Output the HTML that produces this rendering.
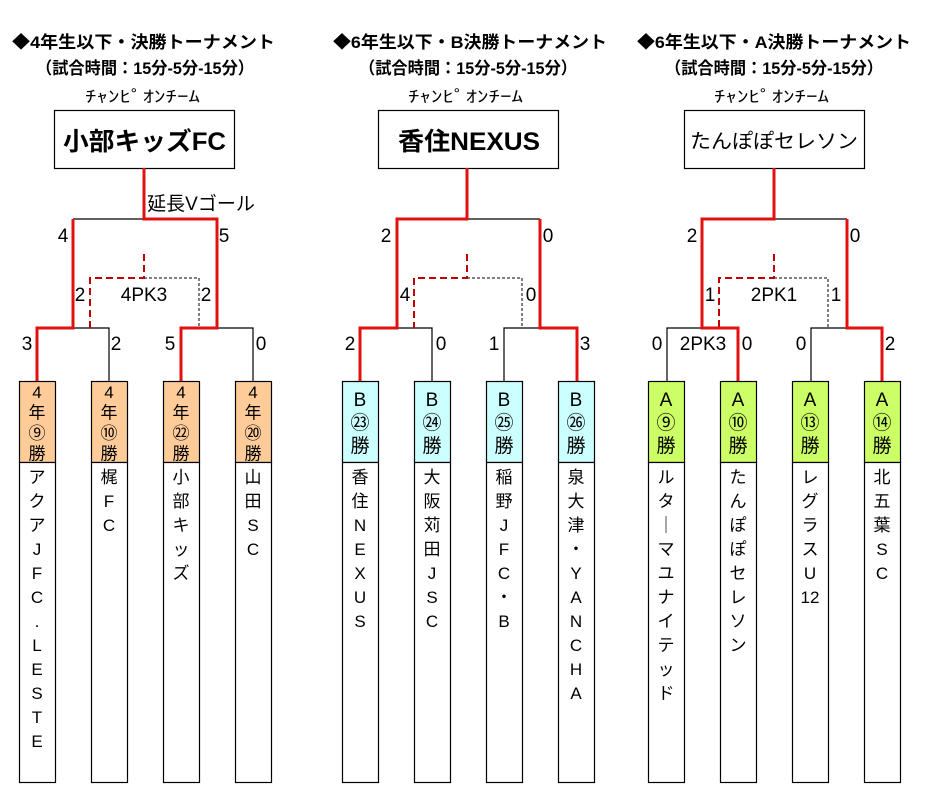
<!DOCTYPE html>
<html><head><meta charset="utf-8"><style>
html,body{margin:0;padding:0;background:#fff;}
svg{display:block;font-family:"Liberation Sans","Noto Sans CJK JP",sans-serif;}
.t{font-size:17px;font-weight:bold;}
.s{font-size:17px;font-weight:bold;}
.c{font-size:16px;}
</style></head><body>
<svg width="937" height="812" viewBox="0 0 937 812" xmlns="http://www.w3.org/2000/svg">
<g fill="#000">
<text class="t" x="12" y="48" textLength="263" lengthAdjust="spacingAndGlyphs">◆4年生以下・決勝トーナメント</text>
<text class="s" x="36" y="74" textLength="218" lengthAdjust="spacingAndGlyphs">（試合時間：15分-5分-15分）</text>
<text class="c" x="85" y="102" textLength="115" lengthAdjust="spacingAndGlyphs">ﾁｬﾝﾋﾟｵﾝﾁｰﾑ</text>
<text class="t" x="333" y="48" textLength="274" lengthAdjust="spacingAndGlyphs">◆6年生以下・B決勝トーナメント</text>
<text class="s" x="359" y="74" textLength="218" lengthAdjust="spacingAndGlyphs">（試合時間：15分-5分-15分）</text>
<text class="c" x="408" y="102" textLength="115" lengthAdjust="spacingAndGlyphs">ﾁｬﾝﾋﾟｵﾝﾁｰﾑ</text>
<text class="t" x="637" y="48" textLength="274" lengthAdjust="spacingAndGlyphs">◆6年生以下・A決勝トーナメント</text>
<text class="s" x="665" y="74" textLength="218" lengthAdjust="spacingAndGlyphs">（試合時間：15分-5分-15分）</text>
<text class="c" x="714" y="102" textLength="115" lengthAdjust="spacingAndGlyphs">ﾁｬﾝﾋﾟｵﾝﾁｰﾑ</text>
</g>
<g fill="#fff" stroke="#000" stroke-width="1.2">
<rect x="54.5" y="110.5" width="180" height="58"/>
<rect x="378.5" y="110.5" width="180" height="58"/>
<rect x="684.5" y="110.5" width="180" height="58"/>
</g>
<text x="63" y="150" font-size="25" font-weight="bold" textLength="163" lengthAdjust="spacingAndGlyphs">小部キッズFC</text>
<text x="398" y="150" font-size="25" font-weight="bold" textLength="142" lengthAdjust="spacingAndGlyphs">香住NEXUS</text>
<text x="690" y="148" font-size="20" textLength="168" lengthAdjust="spacingAndGlyphs">たんぽぽセレソン</text>

<g stroke="#000" stroke-width="1.2">
<g fill="#ffcc99">
<rect x="19.5" y="381.5" width="36" height="81"/><rect x="91.5" y="381.5" width="36" height="81"/><rect x="163.5" y="381.5" width="36" height="81"/><rect x="235.5" y="381.5" width="36" height="81"/>
</g>
<g fill="#ccffff">
<rect x="342.5" y="381.5" width="36" height="81"/><rect x="414.5" y="381.5" width="36" height="81"/><rect x="486.5" y="381.5" width="36" height="81"/><rect x="558.5" y="381.5" width="36" height="81"/>
</g>
<g fill="#ccff66">
<rect x="648.5" y="381.5" width="36" height="81"/><rect x="720.5" y="381.5" width="36" height="81"/><rect x="792.5" y="381.5" width="36" height="81"/><rect x="864.5" y="381.5" width="36" height="81"/>
</g>
<g fill="#fff">
<rect x="19.5" y="462.5" width="36" height="320"/><rect x="91.5" y="462.5" width="36" height="320"/><rect x="163.5" y="462.5" width="36" height="320"/><rect x="235.5" y="462.5" width="36" height="320"/>
<rect x="342.5" y="462.5" width="36" height="320"/><rect x="414.5" y="462.5" width="36" height="320"/><rect x="486.5" y="462.5" width="36" height="320"/><rect x="558.5" y="462.5" width="36" height="320"/>
<rect x="648.5" y="462.5" width="36" height="320"/><rect x="720.5" y="462.5" width="36" height="320"/><rect x="792.5" y="462.5" width="36" height="320"/><rect x="864.5" y="462.5" width="36" height="320"/>
</g>
</g>

<g fill="none" stroke="#000" stroke-width="1.2">
<polyline points="73,219 144,219"/><polyline points="73,328 109,328 109,381"/><polyline points="217,328 253,328 253,381"/>
<polyline points="467,219 540,219"/><polyline points="397,328 432,328 432,381"/><polyline points="504,381 504,328 540,328"/>
<polyline points="774,219 847,219"/><polyline points="667,381 667,328 702,328"/><polyline points="811,381 811,328 847,328"/>
</g>
<g fill="none" stroke="#000" stroke-width="1" stroke-dasharray="3,2">
<polyline points="144,278 199,278 199,328"/>
<polyline points="467,278 522,278 522,328"/>
<polyline points="774,278 828,278 828,328"/>
</g>
<g fill="none" stroke="#c00000" stroke-width="2" stroke-dasharray="7,4">
<polyline points="144,254 144,278 90,278 90,328"/>
<polyline points="467,254 467,278 414,278 414,328"/>
<polyline points="774,254 774,278 719,278 719,328"/>
</g>
<g fill="none" stroke="#e31010" stroke-width="3">
<polyline points="144,168 144,219 217,219 217,328 181,328 181,381"/>
<polyline points="73,219 73,328 37,328 37,381"/>
<polyline points="467,168 467,219 397,219 397,328 360,328 360,381"/>
<polyline points="540,219 540,328 577,328 577,381"/>
<polyline points="774,168 774,219 702,219 702,328 738,328 738,381"/>
<polyline points="847,219 847,328 882,328 882,381"/>
</g>

<g font-size="19" text-anchor="middle">
<text x="201" y="210">延長Vゴール</text>
<text x="63" y="242">4</text><text x="224" y="242">5</text>
<text x="80" y="301">2</text><text x="144" y="301">4PK3</text><text x="206" y="301">2</text>
<text x="27" y="350">3</text><text x="116" y="350">2</text><text x="170" y="350">5</text><text x="261" y="350">0</text>
<text x="386" y="242">2</text><text x="548" y="242">0</text>
<text x="405" y="301">4</text><text x="531" y="301">0</text>
<text x="350" y="350">2</text><text x="441" y="350">0</text><text x="494" y="350">1</text><text x="585" y="350">3</text>
<text x="692" y="242">2</text><text x="855" y="242">0</text>
<text x="710" y="301">1</text><text x="774" y="301">2PK1</text><text x="836" y="301">1</text>
<text x="657" y="350">0</text><text x="703" y="350">2PK3</text><text x="747" y="350">0</text><text x="801" y="350">0</text><text x="890" y="350">2</text>
</g>

<g font-size="17" text-anchor="middle">
<text x="37" y="398">4<tspan x="37" dy="20.5">年</tspan><tspan x="37" dy="20.5">⑨</tspan><tspan x="37" dy="20.5">勝</tspan></text>
<text x="109" y="398">4<tspan x="109" dy="20.5">年</tspan><tspan x="109" dy="20.5">⑩</tspan><tspan x="109" dy="20.5">勝</tspan></text>
<text x="181" y="398">4<tspan x="181" dy="20.5">年</tspan><tspan x="181" dy="20.5">㉒</tspan><tspan x="181" dy="20.5">勝</tspan></text>
<text x="253" y="398">4<tspan x="253" dy="20.5">年</tspan><tspan x="253" dy="20.5">⑳</tspan><tspan x="253" dy="20.5">勝</tspan></text>
</g>
<g font-size="19" text-anchor="middle">
<text x="360" y="406">B<tspan x="360" dy="23">㉓</tspan><tspan x="360" dy="23">勝</tspan></text>
<text x="432" y="406">B<tspan x="432" dy="23">㉔</tspan><tspan x="432" dy="23">勝</tspan></text>
<text x="504" y="406">B<tspan x="504" dy="23">㉕</tspan><tspan x="504" dy="23">勝</tspan></text>
<text x="576" y="406">B<tspan x="576" dy="23">㉖</tspan><tspan x="576" dy="23">勝</tspan></text>
<text x="666" y="406">A<tspan x="666" dy="23">⑨</tspan><tspan x="666" dy="23">勝</tspan></text>
<text x="738" y="406">A<tspan x="738" dy="23">⑩</tspan><tspan x="738" dy="23">勝</tspan></text>
<text x="810" y="406">A<tspan x="810" dy="23">⑬</tspan><tspan x="810" dy="23">勝</tspan></text>
<text x="882" y="406">A<tspan x="882" dy="23">⑭</tspan><tspan x="882" dy="23">勝</tspan></text>
</g>

<g font-size="17" text-anchor="middle">
<text x="37" y="483">ア<tspan x="37" dy="24">ク</tspan><tspan x="37" dy="24">ア</tspan><tspan x="37" dy="24">J</tspan><tspan x="37" dy="24">F</tspan><tspan x="37" dy="24">C</tspan><tspan x="37" dy="24">.</tspan><tspan x="37" dy="24">L</tspan><tspan x="37" dy="24">E</tspan><tspan x="37" dy="24">S</tspan><tspan x="37" dy="24">T</tspan><tspan x="37" dy="24">E</tspan></text>
<text x="109" y="483">梶<tspan x="109" dy="24">F</tspan><tspan x="109" dy="24">C</tspan></text>
<text x="181" y="483">小<tspan x="181" dy="24">部</tspan><tspan x="181" dy="24">キ</tspan><tspan x="181" dy="24">ッ</tspan><tspan x="181" dy="24">ズ</tspan></text>
<text x="253" y="483">山<tspan x="253" dy="24">田</tspan><tspan x="253" dy="24">S</tspan><tspan x="253" dy="24">C</tspan></text>
<text x="360" y="483">香<tspan x="360" dy="24">住</tspan><tspan x="360" dy="24">N</tspan><tspan x="360" dy="24">E</tspan><tspan x="360" dy="24">X</tspan><tspan x="360" dy="24">U</tspan><tspan x="360" dy="24">S</tspan></text>
<text x="432" y="483">大<tspan x="432" dy="24">阪</tspan><tspan x="432" dy="24">苅</tspan><tspan x="432" dy="24">田</tspan><tspan x="432" dy="24">J</tspan><tspan x="432" dy="24">S</tspan><tspan x="432" dy="24">C</tspan></text>
<text x="504" y="483">稲<tspan x="504" dy="24">野</tspan><tspan x="504" dy="24">J</tspan><tspan x="504" dy="24">F</tspan><tspan x="504" dy="24">C</tspan><tspan x="504" dy="24">・</tspan><tspan x="504" dy="24">B</tspan></text>
<text x="576" y="483">泉<tspan x="576" dy="24">大</tspan><tspan x="576" dy="24">津</tspan><tspan x="576" dy="24">・</tspan><tspan x="576" dy="24">Y</tspan><tspan x="576" dy="24">A</tspan><tspan x="576" dy="24">N</tspan><tspan x="576" dy="24">C</tspan><tspan x="576" dy="24">H</tspan><tspan x="576" dy="24">A</tspan></text>
<text x="666" y="483">ル<tspan x="666" dy="24">タ</tspan><tspan x="666" dy="24">｜</tspan><tspan x="666" dy="24">マ</tspan><tspan x="666" dy="24">ユ</tspan><tspan x="666" dy="24">ナ</tspan><tspan x="666" dy="24">イ</tspan><tspan x="666" dy="24">テ</tspan><tspan x="666" dy="24">ッ</tspan><tspan x="666" dy="24">ド</tspan></text>
<text x="738" y="483">た<tspan x="738" dy="24">ん</tspan><tspan x="738" dy="24">ぽ</tspan><tspan x="738" dy="24">ぽ</tspan><tspan x="738" dy="24">セ</tspan><tspan x="738" dy="24">レ</tspan><tspan x="738" dy="24">ソ</tspan><tspan x="738" dy="24">ン</tspan></text>
<text x="810" y="483">レ<tspan x="810" dy="24">グ</tspan><tspan x="810" dy="24">ラ</tspan><tspan x="810" dy="24">ス</tspan><tspan x="810" dy="24">U</tspan><tspan x="810" dy="24">12</tspan></text>
<text x="882" y="483">北<tspan x="882" dy="24">五</tspan><tspan x="882" dy="24">葉</tspan><tspan x="882" dy="24">S</tspan><tspan x="882" dy="24">C</tspan></text>
</g>
</svg>
</body></html>
